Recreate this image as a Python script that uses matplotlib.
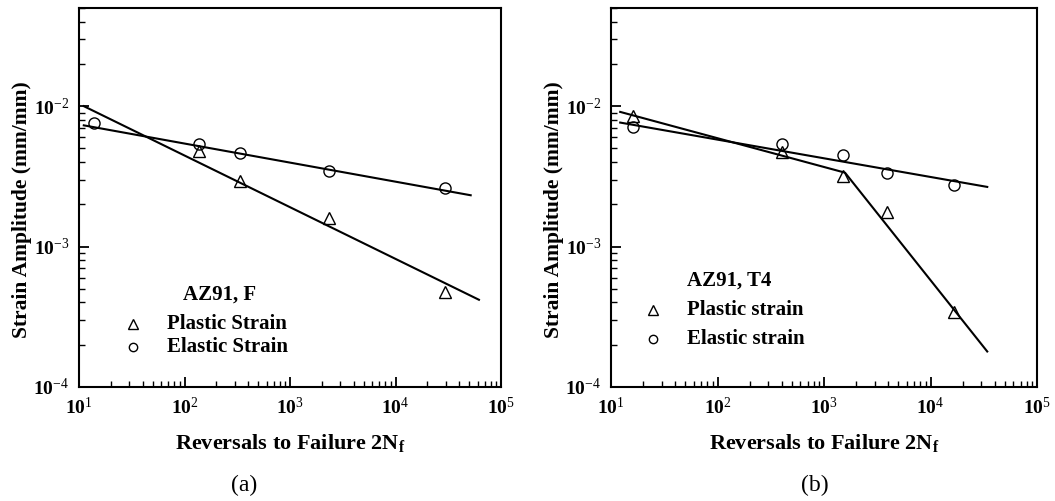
import matplotlib
matplotlib.use("Agg")
import matplotlib.pyplot as plt
from matplotlib.ticker import LogLocator, FixedLocator, FixedFormatter, NullFormatter

# ---------------- data ----------------
# Panel (a) AZ91, F
a_N = [14, 138, 338, 2330, 29400]
a_elastic = [7.6e-3, 5.35e-3, 4.64e-3, 3.43e-3, 2.6e-3]
a_plastic_N = [138, 338, 2330, 29400]
a_plastic = [4.8e-3, 2.93e-3, 1.6e-3, 4.72e-4]
a_elastic_fit_N = [11.1, 51600]
a_elastic_fit = [7.3e-3, 2.32e-3]
a_plastic_fit_N = [11.1, 61800]
a_plastic_fit = [1.0e-2, 4.18e-4]

# Panel (b) AZ91, T4
b_N = [16, 401, 1518, 3880, 16600]
b_elastic = [7.05e-3, 5.35e-3, 4.47e-3, 3.36e-3, 2.73e-3]
b_plastic = [8.53e-3, 4.72e-3, 3.18e-3, 1.76e-3, 3.4e-4]
b_elastic_fit_N = [12.2, 34100]
b_elastic_fit = [7.64e-3, 2.66e-3]
b_plastic_fit_N = [12.2, 1575, 34100]
b_plastic_fit = [9.1e-3, 3.36e-3, 1.79e-4]

x_ticks = [1e1, 1e2, 1e3, 1e4, 1e5]
x_ticklabels = [r"$\mathbf{10}^{1}$", r"$\mathbf{10}^{2}$", r"$\mathbf{10}^{3}$",
                r"$\mathbf{10}^{4}$", r"$\mathbf{10}^{5}$"]
y_ticks = [1e-4, 1e-3, 1e-2]
y_ticklabels = [r"$\mathbf{10}^{-4}$", r"$\mathbf{10}^{-3}$", r"$\mathbf{10}^{-2}$"]

titles = ["AZ91, F", "AZ91, T4"]
legend_a = ["Plastic Strain", "Elastic Strain"]
legend_b = ["Plastic strain", "Elastic strain"]
captions = ["(a)", "(b)"]

# ---------------- style ----------------
plt.rcParams["font.family"] = ["Liberation Serif", "DejaVu Serif"]
plt.rcParams["mathtext.fontset"] = "custom"
plt.rcParams["mathtext.rm"] = "Liberation Serif"
plt.rcParams["mathtext.bf"] = "Liberation Serif:bold"
plt.rcParams["mathtext.it"] = "Liberation Serif:italic"
plt.rcParams["mathtext.default"] = "rm"

fig = plt.figure(figsize=(10.55, 5.01), dpi=100)
ax_a = fig.add_axes([79/1055, 1-387/501, 422/1055, 379/501])
ax_b = fig.add_axes([611/1055, 1-387/501, 426/1055, 379/501])

lw = 1.5
for ax in (ax_a, ax_b):
    ax.set_xscale("log")
    ax.set_yscale("log")
    ax.set_xlim(10, 1e5)
    ax.set_ylim(1e-4, 5e-2)
    for s in ax.spines.values():
        s.set_linewidth(lw)
    ax.xaxis.set_major_locator(FixedLocator(x_ticks))
    ax.xaxis.set_major_formatter(FixedFormatter(x_ticklabels))
    ax.yaxis.set_major_locator(FixedLocator(y_ticks))
    ax.yaxis.set_major_formatter(FixedFormatter(y_ticklabels))
    ax.xaxis.set_minor_locator(LogLocator(base=10, subs=range(2, 10), numticks=20))
    ax.yaxis.set_minor_locator(LogLocator(base=10, subs=range(2, 10), numticks=20))
    ax.xaxis.set_minor_formatter(NullFormatter())
    ax.yaxis.set_minor_formatter(NullFormatter())
    ax.tick_params(which="both", direction="in", top=False, right=False)
    ax.tick_params(which="major", length=7, width=1.3, labelsize=14, pad=7)
    ax.tick_params(which="minor", length=4, width=1.0)
    ax.set_xlabel(r"Reversals to Failure 2N$_{\mathbf{f}}$", fontsize=16,
                  fontweight="bold", labelpad=10)
    ax.set_ylabel("Strain Amplitude (mm/mm)", fontsize=15.5, fontweight="bold")
    ax.yaxis.set_label_coords(-0.111, 0.467)

mk = dict(linestyle="none", markerfacecolor="none", markeredgecolor="black",
          markeredgewidth=1.0)

# panel a
ax_a.plot(a_elastic_fit_N, a_elastic_fit, color="black", lw=lw)
ax_a.plot(a_plastic_fit_N, a_plastic_fit, color="black", lw=lw)
ax_a.plot(a_N, a_elastic, marker="o", markersize=8, **mk)
ax_a.plot(a_plastic_N, a_plastic, marker="^", markersize=8, **mk)

# panel b
ax_b.plot(b_elastic_fit_N, b_elastic_fit, color="black", lw=lw)
ax_b.plot(b_plastic_fit_N, b_plastic_fit, color="black", lw=lw)
ax_b.plot(b_N, b_elastic, marker="o", markersize=8, **mk)
ax_b.plot(b_N, b_plastic, marker="^", markersize=8, **mk)

# legends as text
def legend(title, labels, tx, ty, mx, my1, my2):
    trans = fig.transFigure
    fig.text(tx/1055, 1-ty/501, title, fontsize=15, fontweight="bold",
             ha="left", va="center")
    fig.lines.append(plt.Line2D([mx/1055], [1-my1/501], marker="^", markersize=7,
                                transform=trans, figure=fig, **mk))
    fig.lines.append(plt.Line2D([mx/1055], [1-my2/501], marker="o", markersize=6,
                                transform=trans, figure=fig, **mk))
    fig.text((mx+34)/1055, 1-my1/501, labels[0], fontsize=15, fontweight="bold",
             ha="left", va="center")
    fig.text((mx+34)/1055, 1-my2/501, labels[1], fontsize=15, fontweight="bold",
             ha="left", va="center")

legend(titles[0], legend_a, 182.7, 295, 132.7, 324, 346.7)
legend(titles[1], legend_b, 686.7, 281, 652.7, 310, 339.3)

fig.text(244/1055, 1-485/501, captions[0], fontsize=17, ha="center", va="center")
fig.text(815/1055, 1-485/501, captions[1], fontsize=17, ha="center", va="center")

fig.savefig("out.png", dpi=100)
